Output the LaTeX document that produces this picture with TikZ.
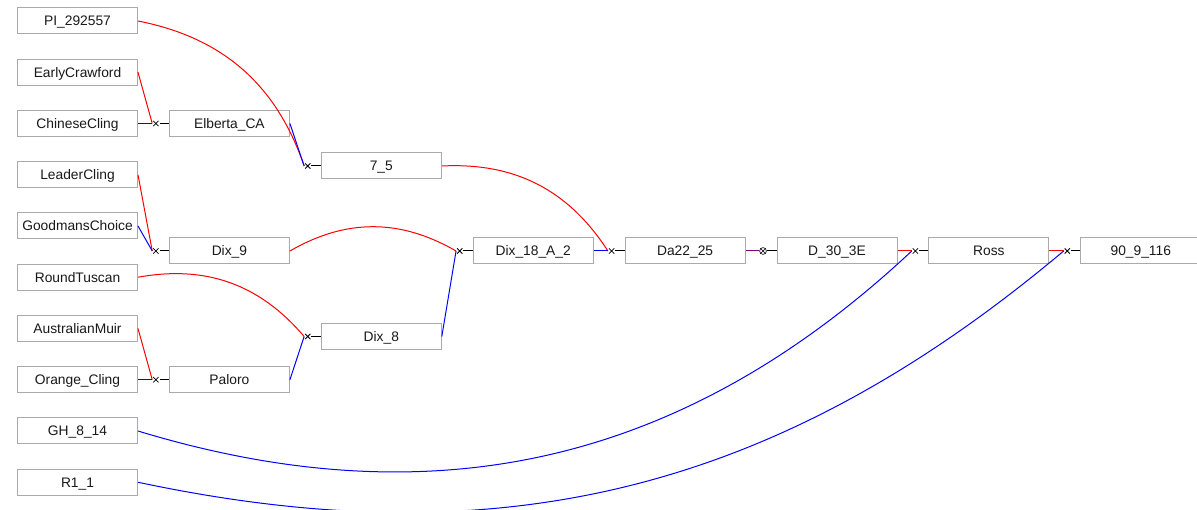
\documentclass[tikz,border=0pt]{standalone}
\usepackage{fontspec}
\setmainfont{Liberation Sans}
\usetikzlibrary{shapes.misc}
\definecolor{boxgray}{RGB}{170,170,170}
\definecolor{labelink}{RGB}{25,25,25}
\definecolor{selfpurple}{RGB}{128,0,128}
\tikzset{
  plant/.style={draw=boxgray, fill=white, line width=1pt, minimum width=120pt,
    minimum height=26pt, inner sep=0pt, anchor=west, text=labelink,
    text height=9.8pt, text depth=0pt,
    font=\fontsize{13.8}{16}\selectfont},
  xmark/.style={cross out, draw=black, line width=0.8pt, minimum size=4.5pt, inner sep=0pt},
  selfmark/.style={circle, draw=black, line width=0.6pt, minimum size=6.8pt, inner sep=0pt},
  mum/.style={draw=red, line width=1pt},
  dad/.style={draw=blue, line width=1pt},
  stub/.style={draw=black, line width=1pt},
}
\begin{document}
\begin{tikzpicture}[x=1pt, y=-1pt]
\useasboundingbox (0,0) rectangle (1197,510);

% founders (first column)
\node[plant] (pi)  at (17,21)     {PI\_292557};
\node[plant] (ec)  at (17,72.25)  {EarlyCrawford};
\node[plant] (cc)  at (17,123.5)  {ChineseCling};
\node[plant] (lc)  at (17,174.75) {LeaderCling};
\node[plant] (gc)  at (17,226)    {GoodmansChoice};
\node[plant] (rt)  at (17,277.25) {RoundTuscan};
\node[plant] (am)  at (17,328.5)  {AustralianMuir};
\node[plant] (oc)  at (17,379.75) {Orange\_Cling};
\node[plant] (gh)  at (17,431)    {GH\_8\_14};
\node[plant] (r1)  at (17,482.25) {R1\_1};

% descendants
\node[plant] (el)  at (168.9,123.5)  {Elberta\_CA};
\node[plant] (d9)  at (168.9,251)    {Dix\_9};
\node[plant] (pa)  at (168.9,379.75) {Paloro};
\node[plant] (s75) at (320.8,166)    {7\_5};
\node[plant] (d8)  at (320.8,336.5)  {Dix\_8};
\node[plant] (d18) at (472.7,251)    {Dix\_18\_A\_2};
\node[plant] (da)  at (624.6,251)    {Da22\_25};
\node[plant] (d30) at (776.5,251)    {D\_30\_3E};
\node[plant] (ro)  at (928.4,251)    {Ross};
\node[plant] (n90) at (1080.3,251)   {90\_9\_116};

% cross markers in front of each offspring
\foreach \c in {el,d9,pa,s75,d8,d18,da,ro,n90}{
  \node[xmark] (x\c) at ([xshift=-13pt]\c.west) {};
  \draw[stub] ([xshift=1pt]x\c.east) -- (\c.west);
}

% selfing marker
\node[selfmark] (sd30) at ([xshift=-13.5pt]d30.west) {};
\draw[line width=0.6pt] (sd30.north west) -- (sd30.south east)
                        (sd30.south west) -- (sd30.north east);
\draw[stub] (sd30.east) -- (d30.west);
\draw[draw=selfpurple, line width=1pt] (da.east) -- (sd30.west);

% parent links: red = seed parent, blue = pollen parent
\draw[mum] (ec.east) -- ([xshift=-1pt]xel.west);
\draw[dad] (cc.east) -- ([xshift=-1pt]xel.west);

\draw[mum] (lc.east) -- ([xshift=-1pt]xd9.west);
\draw[dad] (gc.east) -- ([xshift=-1pt]xd9.west);

\draw[mum] (am.east) -- ([xshift=-1pt]xpa.west);
\draw[dad] (oc.east) -- ([xshift=-1pt]xpa.west);

\draw[mum] (pi.east) to[bend left=30] ([xshift=-1pt]xs75.west);
\draw[dad] (el.east) -- ([xshift=-1pt]xs75.west);

\draw[mum] (rt.east) to[bend left=30] ([xshift=-1pt]xd8.west);
\draw[dad] (pa.east) -- ([xshift=-1pt]xd8.west);

\draw[mum] (d9.east) to[bend left=30] ([xshift=-1pt]xd18.west);
\draw[dad] (d8.east) -- ([xshift=-1pt]xd18.west);

\draw[mum] (s75.east) to[bend left=30] ([xshift=-1pt]xda.west);
\draw[dad] (d18.east) -- ([xshift=-1pt]xda.west);

\draw[mum] (d30.east) -- ([xshift=-1pt]xro.west);
\draw[dad] (gh.east) to[bend right=30] ([xshift=-1pt]xro.west);

\draw[mum] (ro.east) -- ([xshift=-1pt]xn90.west);
\draw[dad] (r1.east) to[bend right=26] ([xshift=-1pt]xn90.west);
\end{tikzpicture}
\end{document}
